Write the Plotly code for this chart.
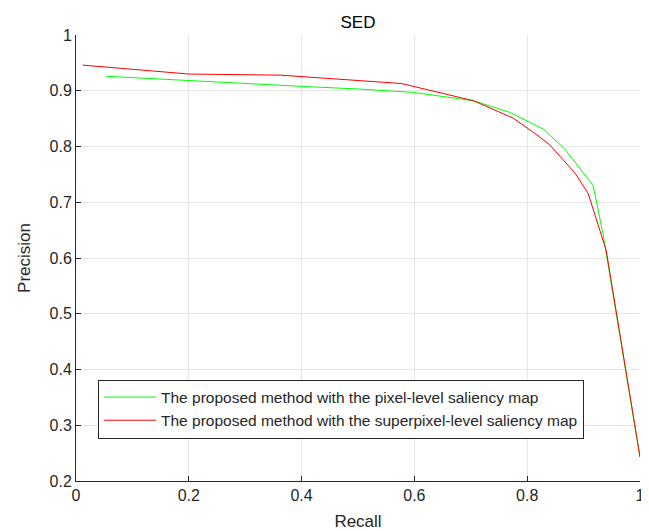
import plotly.graph_objects as go

# Pixel-level saliency map (green)
recall_pixel = [0.053, 0.200, 0.397, 0.503, 0.598, 0.705, 0.770, 0.829, 0.867, 0.917, 0.935, 1.000]
precision_pixel = [0.926, 0.918, 0.908, 0.903, 0.897, 0.882, 0.861, 0.831, 0.795, 0.730, 0.640, 0.243]

# Superpixel-level saliency map (red)
recall_super = [0.012, 0.200, 0.362, 0.503, 0.577, 0.705, 0.775, 0.817, 0.840, 0.885, 0.908, 0.940, 1.000]
precision_super = [0.946, 0.930, 0.928, 0.919, 0.913, 0.882, 0.851, 0.821, 0.803, 0.752, 0.716, 0.614, 0.243]

x_ticks = [0, 0.2, 0.4, 0.6, 0.8, 1]
x_tick_labels = ["0", "0.2", "0.4", "0.6", "0.8", "1"]
y_ticks = [0.2, 0.3, 0.4, 0.5, 0.6, 0.7, 0.8, 0.9, 1]
y_tick_labels = ["0.2", "0.3", "0.4", "0.5", "0.6", "0.7", "0.8", "0.9", "1"]

FONT = "Liberation Sans, Arial, Helvetica, sans-serif"
AX = "#262626"

fig = go.Figure()
fig.add_trace(go.Scatter(
    x=recall_pixel, y=precision_pixel, mode="lines",
    line=dict(color="#00FF00", width=1),
    name="The proposed method with the pixel-level saliency map"))
fig.add_trace(go.Scatter(
    x=recall_super, y=precision_super, mode="lines",
    line=dict(color="#FF0000", width=1),
    name="The proposed method with the superpixel-level saliency map"))

axis_common = dict(
    showgrid=True, gridcolor="#E6E6E6", gridwidth=1,
    showline=True, linecolor=AX, linewidth=1, mirror=False,
    ticks="inside", ticklen=5, tickcolor=AX,
    tickfont=dict(family=FONT, size=16, color=AX),
    zeroline=False, automargin=False,
)

# The page adds an 8px body margin, so the figure is sized/offset to compensate.
W, H = 641, 523
fig.update_layout(
    width=W, height=H,
    margin=dict(l=68, r=9, t=27, b=50),
    paper_bgcolor="white", plot_bgcolor="white",
    title=dict(text="SED", x=0.5, xref="paper", xanchor="center",
               y=1 - 20 / H, yanchor="bottom",
               font=dict(family=FONT, size=17, color="black")),
    xaxis=dict(range=[0, 1], tickvals=x_ticks, ticktext=x_tick_labels,
               title=dict(text="Recall", font=dict(family=FONT, size=17, color=AX), standoff=16),
               **axis_common),
    yaxis=dict(range=[0.2, 1], tickvals=y_ticks, ticktext=y_tick_labels,
               title=dict(text="Precision", font=dict(family=FONT, size=17, color=AX), standoff=14),
               **axis_common),
    legend=dict(x=(98 - 76) / 564, y=(481 - 409) / 446, xanchor="left", yanchor="middle",
                bgcolor="white", bordercolor=AX, borderwidth=1,
                font=dict(family=FONT, size=15.5, color=AX),
                itemwidth=52, tracegroupgap=0),
    showlegend=True,
)

fig.write_html("out.html")
